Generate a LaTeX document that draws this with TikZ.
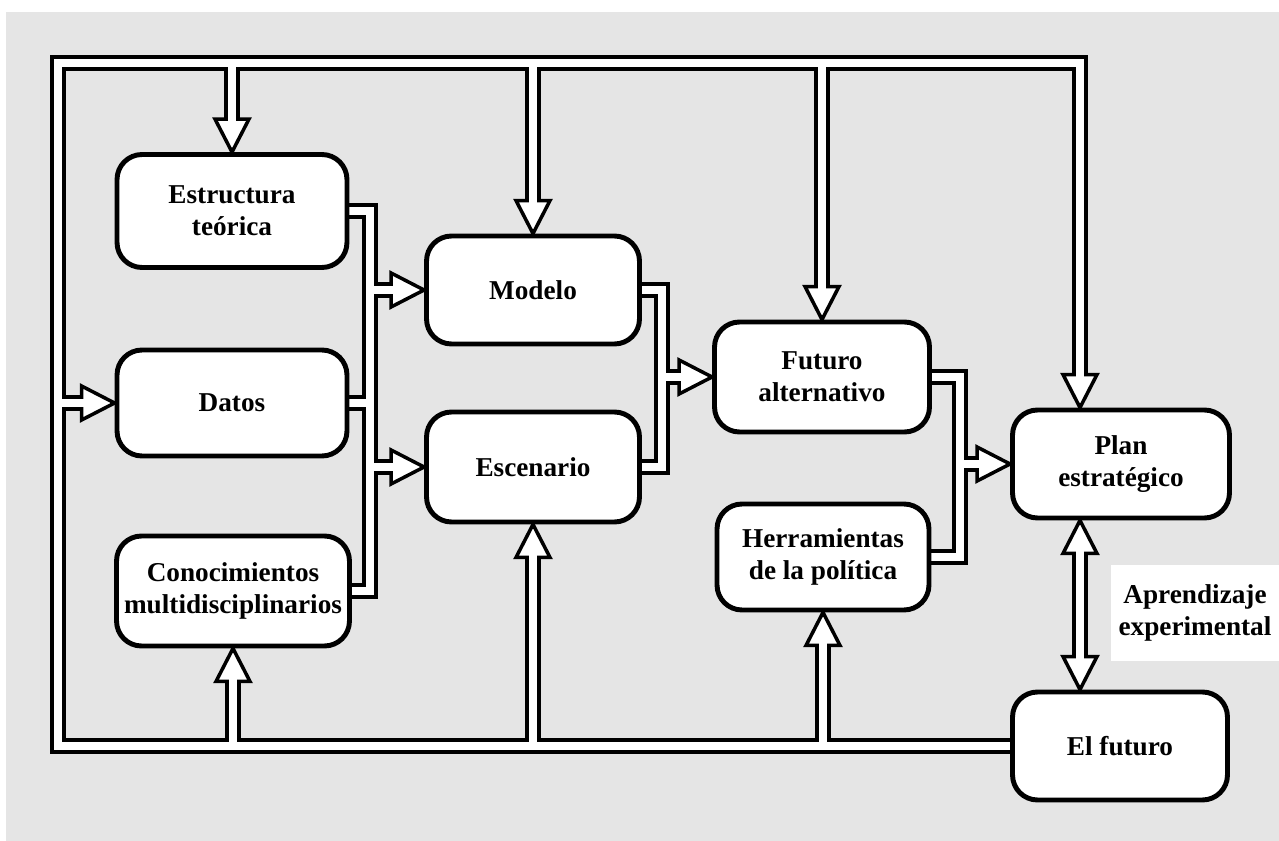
\documentclass[tikz,border=0pt]{standalone}
\usepackage{fontspec}
\setmainfont{Liberation Serif}
\usetikzlibrary{calc}
\pgfdeclarelayer{fondo}
\pgfdeclarelayer{background}
\pgfsetlayers{fondo,background,main}

\definecolor{grisfondo}{RGB}{229,229,229}

\tikzset{
  caja/.style={draw, line width=2.8pt, fill=white, rounded corners=0.5cm,
    minimum width=4.3cm, minimum height=2.2cm, inner sep=2pt, align=center,
    font=\fontsize{15.5}{18.3}\selectfont\bfseries},
  tubonegro/.style={draw=black, line width=9pt, line join=miter},
  tuboblanco/.style={draw=white, line width=5pt, line join=miter},
  punta/.pic={\draw[line width=2pt, fill=white, line join=miter] (0,0) -- (-33,-17) -- (-33,17) -- cycle;}
}

% all pipes, drawn once in black and once in white
\newcommand{\tuberias}[1]{%
  % outer loop
  \draw[#1] (elfuturo.center) -| (c1) -- (c2) -- ($(c2 |- plan.north)+(0,-28)$);
  % down from the top pipe
  \foreach \n in {estructura, modelo, futuro}
    \draw[#1] (\n.north |- c1) -- ($(\n.north)+(0,-28)$);
  % up from the bottom pipe
  \foreach \n in {conoc, escenario, herram}
    \draw[#1] (\n.south |- elfuturo.center) -- ($(\n.south)+(0,28)$);
  \draw[#1] (c1 |- datos.west) -- ($(datos.west)+(-28,0)$);
  % collectors
  \draw[#1] (estructura.center) -| (k1 |- conoc.center) -- (conoc.center);
  \draw[#1] (datos.center) -- (datos.center -| k1);
  \draw[#1] (modelo.center) -| (k2 |- escenario.center) -- (escenario.center);
  \draw[#1] (futuro.center) -| (k3 |- herram.center) -- (herram.center);
  \foreach \a/\b in {k1/modelo, k1/escenario, k2/futuro, k3/plan}
    \draw[#1] (\a |- \b.west) -- ($(\b.west)+(-28,0)$);
  % plan <-> el futuro
  \draw[#1] ($(c2 |- plan.south)+(0,28)$) -- ($(c2 |- elfuturo.north)+(0,-28)$);
}

\begin{document}
\begin{tikzpicture}[x=0.02cm, y=-0.02cm]
  \useasboundingbox (0,0) rectangle (1279,841);
  \begin{pgfonlayer}{fondo}
    \fill[white] (0,0) rectangle (1279,841);
    \fill[grisfondo] (6,12) rectangle (1279,841);
  \end{pgfonlayer}

  % corners of the pipe network
  \coordinate (c1) at (58,63);
  \coordinate (c2) at (1080,63);
  \coordinate (k1) at (370,0);
  \coordinate (k2) at (662,0);
  \coordinate (k3) at (960,0);

  % boxes
  \node[caja, minimum width=4.6cm, minimum height=2.26cm] (estructura) at (232,211) {Estructura\\teórica};
  \node[caja, minimum width=4.6cm, minimum height=2.12cm] (datos) at (232,403) {Datos};
  \node[caja, minimum width=4.66cm] (conoc) at (233,591) {Conocimientos\\multidisciplinarios};
  \node[caja, minimum width=4.26cm, minimum height=2.16cm] (modelo) at (533,290) {Modelo};
  \node[caja, minimum width=4.26cm] (escenario) at (533,467) {Escenario};
  \node[caja] (futuro) at (822,377) {Futuro\\alternativo};
  \node[caja, minimum width=4.24cm, minimum height=2.12cm] (herram) at (823,557) {Herramientas\\de la política};
  \node[caja, minimum width=4.34cm, minimum height=2.16cm] (plan) at (1121,464) {Plan\\estratégico};
  \node[caja, minimum height=2.16cm] (elfuturo) at (1120,746) {El futuro};
  \node[fill=white, minimum width=3.38cm, minimum height=1.94cm, align=center,
    font=\fontsize{15.5}{18.3}\selectfont\bfseries] (aprendizaje) at (1195,613) {Aprendizaje\\experimental};

  \begin{pgfonlayer}{background}
    \tuberias{tubonegro}
    % arrow heads
    \foreach \n in {estructura, modelo, futuro}
      \pic[rotate=-90] at (\n.north) {punta};
    \foreach \n in {conoc, escenario, herram}
      \pic[rotate=90] at (\n.south) {punta};
    \foreach \n in {datos, modelo, escenario, futuro, plan}
      \pic at (\n.west) {punta};
    \pic[rotate=-90] at (c2 |- plan.north) {punta};
    \pic[rotate=90] at (c2 |- plan.south) {punta};
    \pic[rotate=-90] at (c2 |- elfuturo.north) {punta};
    \tuberias{tuboblanco}
  \end{pgfonlayer}
\end{tikzpicture}
\end{document}
